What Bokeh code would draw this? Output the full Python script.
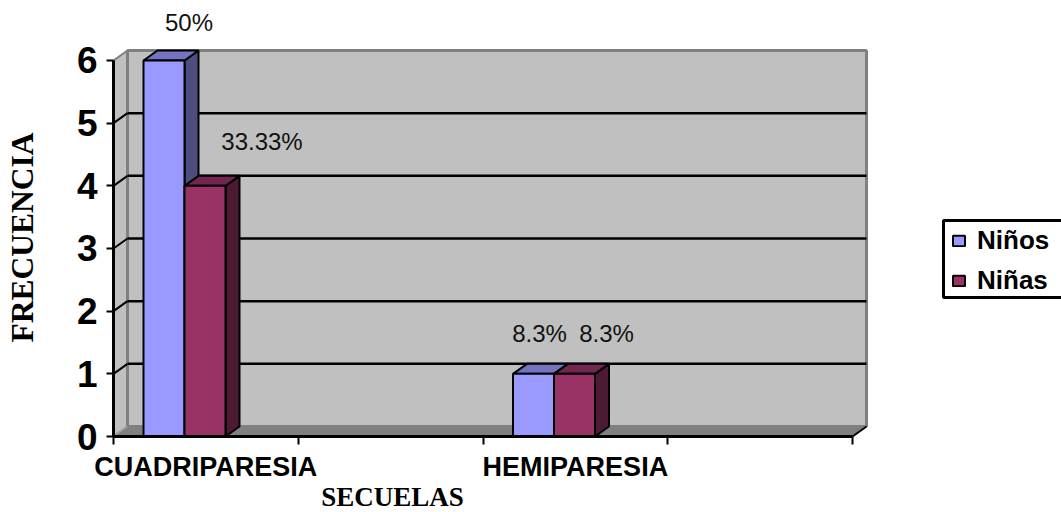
from bokeh.core.properties import value
from bokeh.embed import file_html
from bokeh.models import ColumnDataSource, FixedTicker, Label, Legend, LegendItem, Range1d
from bokeh.plotting import figure
from bokeh.resources import INLINE

# Data
categories = ["CUADRIPARESIA", "HEMIPARESIA"]
ninos = [6, 1]
ninas = [4, 1]
ninos_pct = ["50%", "8.3%"]
ninas_pct = ["33.33%", "8.3%"]
series_names = ["Niños", "Niñas"]
y_ticks = [0, 1, 2, 3, 4, 5, 6]

# Four category slots on the axis; the two named ones sit in slots 0 and 2
slot_index = [0, 2]
n_slots = 4

# Layout, in pixels
LEFT, BASE = 113, 436
SLOT_PX, UNIT_PX = 184.75, 62.67
DX_PX, DY_PX = 14, 10
WIDTH, HEIGHT = 1061, 512

dx, dy = DX_PX / SLOT_PX, DY_PX / UNIT_PX
bar_w = 41 / SLOT_PX
bar_start = 30 / SLOT_PX

BLUE = ("#9999FF", "#7373BF", "#4D4D80")
MAROON = ("#993366", "#732650", "#4D1A33")
WALL, FLOOR, EDGE = "#C0C0C0", "#808080", "#808080"


def px_x(sx):
    return (sx - LEFT) / SLOT_PX


def px_y(sy):
    return (BASE - sy) / UNIT_PX


# The frame fills the whole page and the axes are pinned inside it
p = figure(
    width=WIDTH, height=HEIGHT, output_backend="svg", toolbar_location=None,
    x_range=Range1d(px_x(0), px_x(WIDTH)),
    y_range=Range1d(px_y(HEIGHT), px_y(0)),
    min_border_left=0, min_border_right=0, min_border_top=0, min_border_bottom=0,
    outline_line_color=None, background_fill_color="white",
)
p.grid.visible = False

top = max(y_ticks)

# Walls and floor of the 3D box
p.patch([0, dx, dx, 0], [0, dy, top + dy, top], fill_color=WALL, line_color=EDGE, line_width=2)
p.patch([dx, n_slots + dx, n_slots + dx, dx], [dy, dy, top + dy, top + dy],
        fill_color=WALL, line_color=EDGE, line_width=3)
p.patch([0, n_slots, n_slots + dx, dx], [0, 0, dy, dy], fill_color=FLOOR, line_color=FLOOR, line_width=1)

# Grid lines across the back wall and down the left wall
grid = [t for t in y_ticks if 0 < t < top]
p.segment([dx] * len(grid), [t + dy for t in grid], [n_slots + dx] * len(grid), [t + dy for t in grid],
          line_color="black", line_width=2.5)
p.segment([0] * len(grid), grid, [dx] * len(grid), [t + dy for t in grid],
          line_color="black", line_width=2)
p.segment([0], [0], [dx], [dy], line_color="#A0A0A0", line_width=1.5)
p.segment([n_slots], [0], [n_slots + dx], [dy], line_color="black", line_width=2)


def draw_bar(x0, height, colors):
    """One 3D column: side face, top face, then the front face."""
    x1 = x0 + bar_w
    p.patch([x1, x1 + dx, x1 + dx, x1], [0, dy, height + dy, height],
            fill_color=colors[2], line_color="black", line_width=2)
    p.patch([x0, x1, x1 + dx, x0 + dx], [height, height, height + dy, height + dy],
            fill_color=colors[1], line_color="black", line_width=2)
    return p.quad(left=[x0], right=[x1], bottom=[0], top=[height],
                  fill_color=colors[0], line_color="black", line_width=2)


legend_blue = legend_maroon = None
for slot, a, b in zip(slot_index, ninos, ninas):
    legend_blue = draw_bar(slot + bar_start, a, BLUE)
    legend_maroon = draw_bar(slot + bar_start + bar_w, b, MAROON)

# Percentage labels, hand-placed relative to their columns
label_src = ColumnDataSource(dict(
    x=[slot_index[0] + bar_start + bar_w / 2, slot_index[1] + bar_start + bar_w / 2,
       slot_index[0] + bar_start + 1.5 * bar_w, slot_index[1] + bar_start + 1.5 * bar_w],
    y=[ninos[0], ninos[1], ninas[0], ninas[1]],
    text=[ninos_pct[0], ninos_pct[1], ninas_pct[0], ninas_pct[1]],
    ox=[25, 6, 57, 32],
    oy=[-38, -40, -44, -40],
))
p.text("x", "y", text="text", x_offset="ox", y_offset="oy", source=label_src,
       text_font=value("Liberation Sans"), text_font_size="24px", text_color="#111111",
       text_align="center", text_baseline="middle")

# Axes
xa = p.xaxis[0]
xa.fixed_location = 0
xa.ticker = FixedTicker(ticks=[s + 0.5 for s in slot_index], minor_ticks=list(range(n_slots + 1)))
xa.major_label_overrides = {s + 0.5: c for s, c in zip(slot_index, categories)}
xa.bounds = (0, n_slots)
xa.major_tick_line_color = None
xa.minor_tick_line_color = "black"
xa.minor_tick_line_width = 2
xa.minor_tick_in = 0
xa.minor_tick_out = 8
xa.axis_line_color = "black"
xa.axis_line_width = 3
xa.major_label_standoff = 7
xa.major_label_text_font = "Liberation Sans"
xa.major_label_text_font_style = "bold"
xa.major_label_text_font_size = "27px"
xa.major_label_text_color = "black"

ya = p.yaxis[0]
ya.fixed_location = 0
ya.ticker = FixedTicker(ticks=y_ticks, minor_ticks=[])
ya.bounds = (0, top)
ya.major_tick_line_color = "black"
ya.major_tick_line_width = 2
ya.major_tick_in = 0
ya.major_tick_out = 7
ya.axis_line_color = "black"
ya.axis_line_width = 3
ya.major_label_standoff = 9
ya.major_label_text_font = "Liberation Sans"
ya.major_label_text_font_style = "bold"
ya.major_label_text_font_size = "37px"
ya.major_label_text_color = "black"

# Axis titles
p.add_layout(Label(x=392, y=1, x_units="screen", y_units="screen", text="SECUELAS",
                   text_font="Liberation Serif", text_font_style="bold", text_font_size="27px",
                   text_color="black", text_align="center", text_baseline="bottom"))
p.add_layout(Label(x=22, y=HEIGHT - 237, x_units="screen", y_units="screen", text="FRECUENCIA",
                   angle=90, angle_units="deg",
                   text_font="Liberation Serif", text_font_style="bold", text_font_size="31.5px",
                   text_color="black", text_align="center", text_baseline="middle"))

# Legend frame, running off the right edge of the page
p.quad(left=[px_x(943)], right=[px_x(WIDTH + 10)], top=[px_y(220)], bottom=[px_y(297)],
       fill_color="white", line_color="black", line_width=3)

legend = Legend(
    items=[LegendItem(label=series_names[0], renderers=[legend_blue]),
           LegendItem(label=series_names[1], renderers=[legend_maroon])],
    location=(951, HEIGHT - 296),
    orientation="vertical",
    border_line_color=None, background_fill_alpha=0,
    label_text_font="Liberation Sans", label_text_font_style="bold", label_text_font_size="26px",
    label_text_color="black", glyph_width=15, glyph_height=13, spacing=9,
    margin=0, padding=4, label_standoff=11,
)
p.add_layout(legend, "center")

open("out.html", "w").write(file_html(p, INLINE))
